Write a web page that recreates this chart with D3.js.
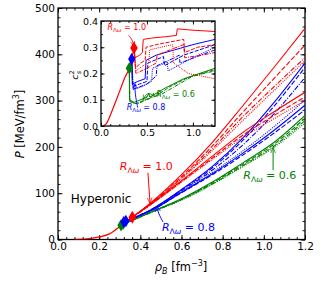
<!DOCTYPE html>
<html>
<head>
<meta charset="utf-8">
<style>
  body { margin: 0; background: #fff; }
  svg text { font-family: "DejaVu Sans", sans-serif; }
</style>
</head>
<body>
<svg width="325" height="293"></svg>
<script src="https://d3js.org/d3.v7.min.js"></script>
<script>

  // ---- main panel data: P(rho) ----
  var nucRho = [0.08, 0.12, 0.16, 0.20, 0.25, 0.30, 0.33, 0.361];
  var nucP = [0, 0.8, 2.5, 5.5, 12, 28, 39, 48];

  var hypRho = [0.45, 0.6, 0.75, 0.9, 1.05, 1.2];

  var onsetRed = [0.361, 48], onsetBlue = [0.33, 40], onsetGreen = [0.306, 31];

  var redP = [
    [79, 140, 210, 290, 372, 456],
    [78, 136, 202, 276, 348, 420],
    [77, 133, 196, 266, 330, 393],
    [77, 131, 192, 258, 322, 386],
    [76, 127, 180, 232, 276, 318],
    [75, 125, 176, 226, 268, 308],
    [75, 124, 173, 221, 261, 300]
  ];
  var blueP = [
    [64, 108, 158, 220, 296, 381],
    [64, 107, 155, 215, 288, 372],
    [63, 105, 150, 205, 272, 350],
    [63, 103, 145, 192, 244, 301],
    [62, 102, 142, 187, 236, 290],
    [62, 101, 140, 183, 230, 280]
  ];
  var greenP = [
    [59, 88, 124, 166, 210, 268],
    [59, 87, 122, 163, 206, 262],
    [58, 86, 120, 160, 202, 257],
    [58, 85, 119, 158, 199, 252]
  ];
  var dashes = [null, "5,2", "5,1.5,1,1.5", "1,1.2", null, "5,2", "1,1.2"];

  // ---- inset data: c_s^2(rho) ----
  var insNucRho = [0.02, 0.06, 0.10, 0.14, 0.20, 0.26, 0.308, 0.334, 0.359];
  var insNucC = [0, 0.01, 0.04, 0.075, 0.13, 0.185, 0.22, 0.255, 0.297];

  var insRed = [
    { rho: [0.359, 0.37, 0.42, 0.45, 0.46, 0.55, 0.7, 0.82, 0.83, 1.0, 1.24], c: [0.297, 0.26, 0.27, 0.28, 0.33, 0.335, 0.34, 0.345, 0.37, 0.365, 0.36] },
    { rho: [0.359, 0.375, 0.43, 0.48, 0.49, 0.6, 0.75, 0.9, 0.91, 1.05, 1.24], c: [0.297, 0.22, 0.24, 0.25, 0.30, 0.31, 0.32, 0.33, 0.28, 0.30, 0.31] },
    { rho: [0.359, 0.38, 0.5, 0.6, 0.61, 0.75, 0.9, 0.91, 1.1, 1.24], c: [0.297, 0.20, 0.22, 0.24, 0.27, 0.29, 0.31, 0.26, 0.27, 0.28] },
    { rho: [0.359, 0.38, 0.46, 0.52, 0.53, 0.65, 0.78, 0.79, 0.95, 1.24], c: [0.297, 0.21, 0.23, 0.24, 0.29, 0.30, 0.31, 0.24, 0.20, 0.18] }
  ];
  var insBlue = [
    { rho: [0.334, 0.34, 0.4, 0.48, 0.49, 0.6, 0.8, 1.0, 1.24], c: [0.255, 0.16, 0.17, 0.18, 0.25, 0.27, 0.29, 0.31, 0.33] },
    { rho: [0.334, 0.345, 0.42, 0.5, 0.51, 0.65, 0.68, 0.69, 0.9, 1.24], c: [0.255, 0.15, 0.16, 0.17, 0.24, 0.26, 0.265, 0.23, 0.27, 0.31] },
    { rho: [0.334, 0.35, 0.5, 0.6, 0.61, 0.8, 0.85, 0.86, 1.24], c: [0.255, 0.14, 0.16, 0.19, 0.23, 0.26, 0.27, 0.24, 0.29] },
    { rho: [0.334, 0.35, 0.45, 0.55, 0.56, 0.7, 0.72, 0.73, 1.0, 1.24], c: [0.255, 0.14, 0.15, 0.17, 0.22, 0.24, 0.245, 0.21, 0.26, 0.30] }
  ];
  var insGreen = [
    { rho: [0.308, 0.31, 0.36, 0.5, 0.52, 0.53, 0.7, 0.9, 1.24], c: [0.22, 0.10, 0.09, 0.11, 0.125, 0.11, 0.145, 0.18, 0.22] },
    { rho: [0.308, 0.312, 0.38, 0.55, 0.57, 0.58, 0.75, 0.95, 1.24], c: [0.22, 0.095, 0.085, 0.11, 0.125, 0.11, 0.15, 0.185, 0.215] },
    { rho: [0.308, 0.315, 0.4, 0.6, 0.62, 0.63, 0.8, 1.0, 1.24], c: [0.22, 0.09, 0.085, 0.115, 0.13, 0.115, 0.15, 0.19, 0.21] }
  ];
  var insDashes = [null, "4,1.5", "4,1.2,1,1.2", "1,1"];

  var xTicks = [0.0, 0.2, 0.4, 0.6, 0.8, 1.0, 1.2];
  var yTicks = [0, 100, 200, 300, 400, 500];
  var insXTicks = [0.0, 0.5, 1.0];
  var insYTicks = [0.0, 0.1, 0.2, 0.3, 0.4];

  var RED = "#ff0000", BLUE = "#0000ff", GREEN = "#008000";

  var svg = d3.select("svg");
  var L = 58, R = 305, T = 8, B = 239.5;

  var x = d3.scaleLinear().domain([0, 1.2]).range([L, R]);
  var y = d3.scaleLinear().domain([0, 500]).range([B, T]);

  var defs = svg.append("defs");
  defs.append("clipPath").attr("id", "clipMain").append("rect")
    .attr("x", L).attr("y", T).attr("width", R - L).attr("height", B - T);
  [["red", RED], ["blue", BLUE], ["green", GREEN]].forEach(function (m) {
    defs.append("marker").attr("id", "arr-" + m[0])
      .attr("viewBox", "0 0 10 10").attr("refX", 9).attr("refY", 5)
      .attr("markerWidth", 6).attr("markerHeight", 6).attr("orient", "auto")
      .append("path").attr("d", "M0,1L10,5L0,9").attr("fill", "none")
      .attr("stroke", m[1]).attr("stroke-width", 1.2);
  });

  function zip(xs, ys) { return xs.map(function (v, i) { return [v, ys[i]]; }); }

  // box with inward ticks on all four sides
  function frame(g, xs, ys, xMaj, yMaj, xMin, yMin, big, small, fs, fmtX, fmtY) {
    var x0 = xs.range()[0], x1 = xs.range()[1], y0 = ys.range()[0], y1 = ys.range()[1];
    var sides = [
      [d3.axisBottom, xs, "translate(0," + y0 + ")", xMaj, xMin, fmtX],
      [d3.axisTop, xs, "translate(0," + y1 + ")", xMaj, xMin, null],
      [d3.axisLeft, ys, "translate(" + x0 + ",0)", yMaj, yMin, fmtY],
      [d3.axisRight, ys, "translate(" + x1 + ",0)", yMaj, yMin, null]
    ];
    var ax = g.append("g");
    sides.forEach(function (s) {
      ax.append("g").attr("transform", s[2])
        .call(s[0](s[1]).tickValues(s[4]).tickSizeInner(-small).tickSizeOuter(0).tickFormat(""));
      ax.append("g").attr("transform", s[2])
        .call(s[0](s[1]).tickValues(s[3]).tickSizeInner(-big).tickSizeOuter(0).tickPadding(3)
          .tickFormat(s[5] || ""));
    });
    ax.selectAll(".domain").remove();
    ax.selectAll(".tick line").attr("stroke", "#000").attr("stroke-width", 0.9);
    ax.selectAll(".tick text").attr("font-size", fs).attr("fill", "#000")
      .attr("font-family", "DejaVu Sans");
    g.append("rect").attr("x", x0).attr("y", y1).attr("width", x1 - x0).attr("height", y0 - y1)
      .attr("fill", "none").attr("stroke", "#000").attr("stroke-width", 1.3);
  }

  var xMinor = d3.range(0, 1.2001, 0.04);
  var yMinor = d3.range(0, 500.1, 20);
  frame(svg.append("g"), x, y, xTicks, yTicks, xMinor, yMinor, 4.5, 2.5, 10.5,
    d3.format(".1f"), d3.format("d"));

  // main curves
  var line = d3.line().x(function (d) { return x(d[0]); }).y(function (d) { return y(d[1]); })
    .curve(d3.curveMonotoneX);
  var plot = svg.append("g").attr("clip-path", "url(#clipMain)");

  function group(data, onset, color) {
    data.forEach(function (p, i) {
      plot.append("path").datum([onset].concat(zip(hypRho, p)))
        .attr("d", line).attr("fill", "none").attr("stroke", color)
        .attr("stroke-width", 1.1).attr("stroke-dasharray", dashes[i]);
    });
  }
  group(greenP, onsetGreen, GREEN);
  group(blueP, onsetBlue, BLUE);
  group(redP, onsetRed, RED);

  plot.append("path").datum(zip(nucRho, nucP)).attr("d", line)
    .attr("fill", "none").attr("stroke", RED).attr("stroke-width", 1.3);

  function diamond(g, px, py, color, s) {
    g.append("path").attr("d", d3.symbol(d3.symbolDiamond, s)())
      .attr("transform", "translate(" + px + "," + py + ")").attr("fill", color);
  }
  diamond(svg, x(onsetGreen[0]), y(onsetGreen[1]), GREEN, 45);
  diamond(svg, x(onsetGreen[0] + 0.01), y(onsetGreen[1] + 3), GREEN, 45);
  diamond(svg, x(onsetBlue[0] - 0.01), y(onsetBlue[1] - 2), BLUE, 45);
  diamond(svg, x(onsetBlue[0]), y(onsetBlue[1]), BLUE, 45);
  diamond(svg, x(onsetRed[0]), y(onsetRed[1]), RED, 50);

  svg.append("text").attr("x", x(0.062)).attr("y", y(78)).attr("font-size", 12)
    .text("Hyperonic");

  function rLabel(g, px, py, val, color, fs) {
    var t = g.append("text").attr("x", px).attr("y", py).attr("font-size", fs).attr("fill", color);
    t.append("tspan").attr("font-style", "italic").text("R");
    t.append("tspan").attr("font-size", fs * 0.7).attr("dy", fs * 0.25).text("Λ");
    t.append("tspan").attr("font-size", fs * 0.7).attr("font-style", "italic").text("ω");
    t.append("tspan").attr("dy", -fs * 0.25).text(" = " + val);
  }
  rLabel(svg, x(0.30), y(150), "1.0", RED, 11);
  rLabel(svg, x(0.505), y(18), "0.8", BLUE, 11);
  rLabel(svg, x(0.90), y(131), "0.6", GREEN, 11);

  function arrow(g, pts, color, name, curve) {
    g.append("path").datum(pts)
      .attr("d", d3.line().x(function (d) { return x(d[0]); }).y(function (d) { return y(d[1]); })
        .curve(curve || d3.curveLinear))
      .attr("fill", "none").attr("stroke", color).attr("stroke-width", 1)
      .attr("marker-end", "url(#arr-" + name + ")");
  }
  arrow(svg, [[0.437, 144], [0.447, 79]], RED, "red");
  arrow(svg, [[0.51, 38], [0.488, 56], [0.48, 72]], BLUE, "blue", d3.curveBasis);
  arrow(svg, [[1.045, 150], [1.045, 198]], GREEN, "green");

  // axis titles
  var xl = svg.append("text").attr("x", 181).attr("y", 271).attr("text-anchor", "middle").attr("font-size", 11.5);
  xl.append("tspan").attr("font-style", "italic").text("ρ");
  xl.append("tspan").attr("font-style", "italic").attr("font-size", 8).attr("dy", 3).text("B");
  xl.append("tspan").attr("dy", -3).text(" [fm");
  xl.append("tspan").attr("font-size", 8).attr("dy", -5).text("−3");
  xl.append("tspan").attr("dy", 5).text("]");

  var yl = svg.append("text").attr("transform", "translate(24,124) rotate(-90)")
    .attr("text-anchor", "middle").attr("font-size", 11.5);
  yl.append("tspan").attr("font-style", "italic").text("P");
  yl.append("tspan").text(" [MeV/fm");
  yl.append("tspan").attr("font-size", 8).attr("dy", -5).text("3");
  yl.append("tspan").attr("dy", 5).text("]");

  // ---- inset ----
  var ix = d3.scaleLinear().domain([0, 1.24]).range([101, 215]);
  var iy = d3.scaleLinear().domain([0, 0.4]).range([126, 21]);
  var ins = svg.append("g");
  ins.append("rect").attr("x", 101).attr("y", 21).attr("width", 114).attr("height", 105).attr("fill", "#fff");
  defs.append("clipPath").attr("id", "clipIns").append("rect")
    .attr("x", 101).attr("y", 21).attr("width", 114).attr("height", 105);

  var iline = d3.line().x(function (d) { return ix(d[0]); }).y(function (d) { return iy(d[1]); });
  var ip = ins.append("g").attr("clip-path", "url(#clipIns)");
  function igroup(arr, color) {
    arr.forEach(function (s, i) {
      ip.append("path").datum(zip(s.rho, s.c)).attr("d", iline)
        .attr("fill", "none").attr("stroke", color).attr("stroke-width", 1)
        .attr("stroke-dasharray", insDashes[i]);
    });
  }
  igroup(insGreen, GREEN);
  igroup(insBlue, BLUE);
  igroup(insRed, RED);
  ip.append("path").datum(zip(insNucRho, insNucC)).attr("d", iline.curve(d3.curveMonotoneX))
    .attr("fill", "none").attr("stroke", RED).attr("stroke-width", 1.2);

  diamond(ins, ix(0.308), iy(0.22), GREEN, 45);
  diamond(ins, ix(0.334), iy(0.255), BLUE, 45);
  diamond(ins, ix(0.359), iy(0.297), RED, 50);

  frame(ins, ix, iy, insXTicks, insYTicks, d3.range(0, 1.2401, 0.1), d3.range(0, 0.4001, 0.05),
    3.5, 2, 9.5, d3.format(".1f"), d3.format(".1f"));

  function iLabel(px, py, val, color) {
    var t = ins.append("text").attr("x", px).attr("y", py).attr("font-size", 8).attr("fill", color);
    t.append("tspan").attr("font-style", "italic").text("R");
    t.append("tspan").attr("font-size", 5.6).attr("dy", 2).text("Λ");
    t.append("tspan").attr("font-size", 5.6).attr("font-style", "italic").text("ω");
    t.append("tspan").attr("dy", -2).text(" = " + val);
  }
  iLabel(ix(0.07), iy(0.365), "1.0", RED);
  iLabel(ix(0.28), iy(0.06), "0.8", BLUE);
  iLabel(ix(0.6), iy(0.11), "0.6", GREEN);

  function iarrow(pts, color, name) {
    ins.append("path").datum(pts)
      .attr("d", d3.line().x(function (d) { return ix(d[0]); }).y(function (d) { return iy(d[1]); })
        .curve(d3.curveBasis))
      .attr("fill", "none").attr("stroke", color).attr("stroke-width", 0.9)
      .attr("marker-end", "url(#arr-" + name + ")");
  }
  iarrow([[0.3, 0.345], [0.34, 0.33], [0.355, 0.305]], RED, "red");
  iarrow([[0.4, 0.07], [0.37, 0.12], [0.37, 0.16]], BLUE, "blue");
  iarrow([[0.58, 0.115], [0.5, 0.13], [0.46, 0.10]], GREEN, "green");

  var cl = ins.append("text").attr("transform", "translate(78,75) rotate(-90)")
    .attr("text-anchor", "middle").attr("font-size", 9.5);
  cl.append("tspan").attr("font-style", "italic").text("c");
  cl.append("tspan").attr("font-size", 6.5).attr("dy", -4).text("2");
  cl.append("tspan").attr("font-size", 6.5).attr("dx", -4).attr("dy", 7).attr("font-style", "italic").text("s");

</script>
</body>
</html>
